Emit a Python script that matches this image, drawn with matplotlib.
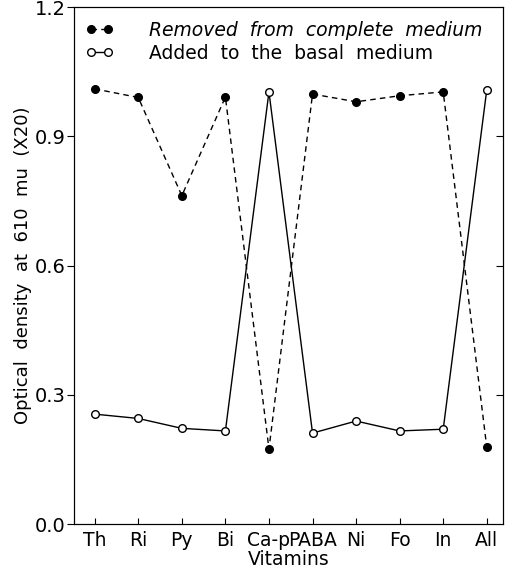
import matplotlib.pyplot as plt
import numpy as np

vitamins = ['Th', 'Ri', 'Py', 'Bi', 'Ca-p', 'PABA', 'Ni', 'Fo', 'In', 'All']
removed = [1.01, 0.99, 0.762, 0.991, 0.174, 0.998, 0.98, 0.994, 1.003, 0.178]
added = [0.255, 0.245, 0.222, 0.216, 1.003, 0.211, 0.239, 0.216, 0.22, 1.008]
yticks = [0.0, 0.3, 0.6, 0.9, 1.2]

plt.rcParams['font.family'] = 'DejaVu Sans'

fig = plt.figure(figsize=(5.09, 5.7), dpi=100)
ax = fig.add_axes([0.145, 0.0807, 0.843, 0.907])

x = np.arange(len(vitamins))
ax.plot(x, removed, color='black', lw=1.0, ls=(0, (4, 3)), marker='o',
        ms=5.5, mfc='black', mec='black', label='Removed  from  complete  medium')
ax.plot(x, added, color='black', lw=1.0, ls='-', marker='o',
        ms=5.5, mfc='white', mec='black', label='Added  to  the  basal  medium')

ax.set_xlim(-0.48, 9.37)
ax.set_ylim(0, 1.2)
ax.set_xticks(x)
ax.set_xticklabels(vitamins, fontsize=13.5)
ax.set_yticks(yticks)
ax.set_yticklabels([f'{v:.1f}' for v in yticks], fontsize=14)
ax.tick_params(axis='x', direction='in', length=4, pad=5)
ax.tick_params(axis='y', direction='out', length=5, pad=1)
ax.set_xlabel('Vitamins', fontsize=13.5, labelpad=0)
ax.set_ylabel('Optical  density  at  610  mu  (X20)', fontsize=13, labelpad=2)

# inward ticks on the right spine
ax2 = ax.twinx()
ax2.set_ylim(ax.get_ylim())
ax2.set_yticks(yticks[1:-1])
ax2.set_yticklabels([])
ax2.tick_params(axis='y', direction='in', length=5)

leg = ax.legend(loc='upper left', bbox_to_anchor=(0.0, 0.995), frameon=False,
                fontsize=13.5, numpoints=2, handlelength=1.5, handletextpad=1.9,
                labelspacing=0.2, borderaxespad=0.2)
leg.get_texts()[0].set_style('italic')

fig.savefig('out.png', dpi=100)
